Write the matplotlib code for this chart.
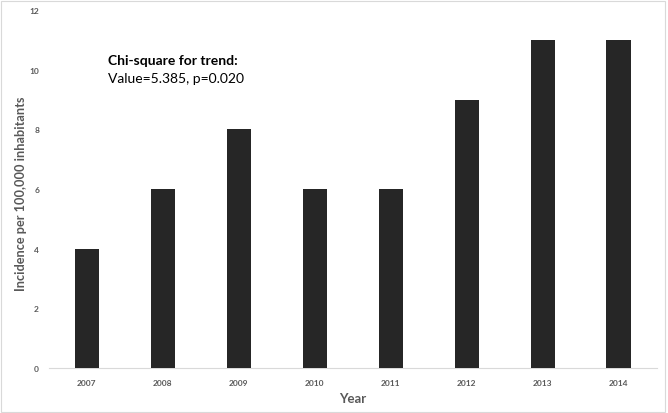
import matplotlib.pyplot as plt
import numpy as np

years = ["2007", "2008", "2009", "2010", "2011", "2012", "2013", "2014"]
incidence = [4, 6, 8, 6, 6, 9, 11, 11]
y_ticks = [0, 2, 4, 6, 8, 10, 12]

plt.rcParams['font.family'] = ['Lato', 'DejaVu Sans']

fig = plt.figure(figsize=(6.68, 4.14), dpi=100)
ax = fig.add_axes([0.073, 0.109, 0.910, 0.864])

x = np.arange(len(years))
ax.bar(x, incidence, width=0.32, color='#262626', zorder=3)

ax.set_xlim(-0.5, len(years) - 0.5)
ax.set_ylim(0, 12)
ax.set_xticks(x)
ax.set_xticklabels(years, fontsize=6, color='#595959', fontweight='bold')
ax.set_yticks(y_ticks)
ax.set_yticklabels([str(v) for v in y_ticks], fontsize=6, color='#595959', fontweight='bold')
ax.tick_params(length=0, pad=8)
ax.tick_params(axis='y', pad=7)

for s in ['top', 'right', 'left']:
    ax.spines[s].set_visible(False)
ax.spines['bottom'].set_color('#d9d9d9')
ax.spines['bottom'].set_linewidth(0.8)

ax.set_ylabel('Incidence per 100,000 inhabitants', fontsize=9.2, color='#595959',
              fontweight='bold')
ax.yaxis.set_label_coords(-0.036, 0.49)
ax.set_xlabel('Year', fontsize=9.5, color='#595959', fontweight='bold', labelpad=4)

ax.text(0.28, 10.2, 'Chi-square for trend:', fontsize=10, fontweight='bold', color='#000000')
ax.text(0.28, 9.58, 'Value=5.385, p=0.020', fontsize=10, color='#000000')

fig.patches.append(plt.Rectangle((0.002, 0.002), 0.994, 0.994, transform=fig.transFigure,
                                 fill=False, edgecolor='#d9d9d9', linewidth=0.8))

fig.savefig('out.png', dpi=100)
